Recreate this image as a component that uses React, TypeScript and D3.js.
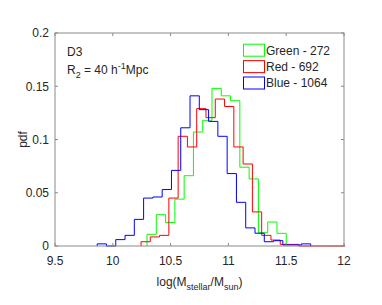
import React from "react";
import * as d3 from "d3";

// pdf per bin (fraction of galaxies)
const greenStart = 10.296;
const greenValues = [0.011, 0.0294, 0.022, 0.044, 0.066, 0.107, 0.118, 0.148, 0.141, 0.1364, 0.074, 0.063, 0.0125, 0.0225, 0.0119];

const redStart = 10.244;
const redValues = [0.004, 0.0085, 0.010, 0.045, 0.103, 0.093, 0.129, 0.1205, 0.138, 0.131, 0.093, 0.077, 0.032, 0.010, 0.0056, 0.0015, 0.0015, 0, 0, 0, 0, 0];

const blueStart = 9.865;
const blueValues = [0.002, 0, 0.006, 0.010, 0.025, 0.045, 0.046, 0.053, 0.071, 0.111, 0.141, 0.128, 0.117, 0.103, 0.068, 0.041, 0.017, 0.012, 0.004, 0.005, 0.001, 0.001, 0.002];

const binWidth = 0.0803;

const series = [
  { name: "Green - 272", color: "#00ff00", start: greenStart, values: greenValues },
  { name: "Red - 692", color: "#ff0000", start: redStart, values: redValues },
  { name: "Blue - 1064", color: "#0000ff", start: blueStart, values: blueValues },
];

const xTicks = [9.5, 10, 10.5, 11, 11.5, 12];
const yTicks = [0, 0.05, 0.1, 0.15, 0.2];

const W = 382;
const H = 305;
const font = "'Liberation Sans', Arial, Helvetica, sans-serif";
const textColor = "#262626";
const axisColor = "#8a8a8a";

export default function App() {
  const x = d3.scaleLinear().domain([9.5, 12]).range([55, 344]);
  const y = d3.scaleLinear().domain([0, 0.2]).range([246, 33]);

  // outline of a histogram drawn as stairs, closed down to zero at both ends
  const stairs = (start: number, values: number[]) => {
    const p = d3.path();
    p.moveTo(x(start), y(0));
    values.forEach((v, i) => {
      p.lineTo(x(start + i * binWidth), y(v));
      p.lineTo(x(start + (i + 1) * binWidth), y(v));
    });
    p.lineTo(x(start + values.length * binWidth), y(0));
    return p.toString();
  };

  const [x0, x1] = x.range();
  const [y0, y1] = y.range();

  return (
    <svg width={W} height={H} style={{ position: "absolute", left: 0, top: 0, background: "#fff" }}
      fontFamily={font}>
      <rect x={0} y={0} width={W} height={H} fill="#fff" />

      {series.map(s => (
        <path key={s.name} d={stairs(s.start, s.values)} fill="none" stroke={s.color} strokeWidth={1} />
      ))}

      {/* axes box */}
      <rect x={x0} y={y1} width={x1 - x0} height={y0 - y1} fill="none" stroke={axisColor} strokeWidth={1} />
      {xTicks.map(t => (
        <g key={"x" + t}>
          <line x1={x(t)} x2={x(t)} y1={y0} y2={y0 - 3} stroke={axisColor} />
          <line x1={x(t)} x2={x(t)} y1={y1} y2={y1 + 3} stroke={axisColor} />
          <text x={x(t)} y={264.5} textAnchor="middle" fontSize={12} fill={textColor}>{t}</text>
        </g>
      ))}
      {yTicks.map(t => (
        <g key={"y" + t}>
          <line x1={x0} x2={x0 + 3} y1={y(t)} y2={y(t)} stroke={axisColor} />
          <line x1={x1} x2={x1 - 3} y1={y(t)} y2={y(t)} stroke={axisColor} />
          <text x={49} y={y(t)} dy="0.36em" textAnchor="end" fontSize={12} fill={textColor}>{t}</text>
        </g>
      ))}

      {/* axis labels */}
      <text x={(x0 + x1) / 2} y={286} textAnchor="middle" fontSize={12} fill={textColor}>
        log(M<tspan fontSize={9} dy={4}>stellar</tspan>
        <tspan dy={-4}>/M</tspan><tspan fontSize={9} dy={4}>sun</tspan>
        <tspan dy={-4}>)</tspan>
      </text>
      <text transform={`translate(27,${(y0 + y1) / 2}) rotate(-90)`} textAnchor="middle" fontSize={12}
        fill={textColor}>pdf</text>

      {/* annotation */}
      <text x={67} y={55.5} fontSize={12} fill={textColor}>D3</text>
      <text x={67} y={74} fontSize={12} fill={textColor}>
        R<tspan fontSize={9} dy={3.5}>2</tspan>
        <tspan dy={-3.5}> = 40 h</tspan><tspan fontSize={9} dy={-5}>-1</tspan>
        <tspan dy={5}>Mpc</tspan>
      </text>

      {/* legend */}
      {series.map((s, i) => {
        const cy = 50.2 + i * 16.4;
        return (
          <g key={"leg" + s.name}>
            <rect x={243.5} y={cy - 6} width={21} height={12} fill="none" stroke={s.color} strokeWidth={1} />
            <text x={266} y={cy} dy="0.36em" fontSize={12} fill={textColor}>{s.name}</text>
          </g>
        );
      })}
    </svg>
  );
}
